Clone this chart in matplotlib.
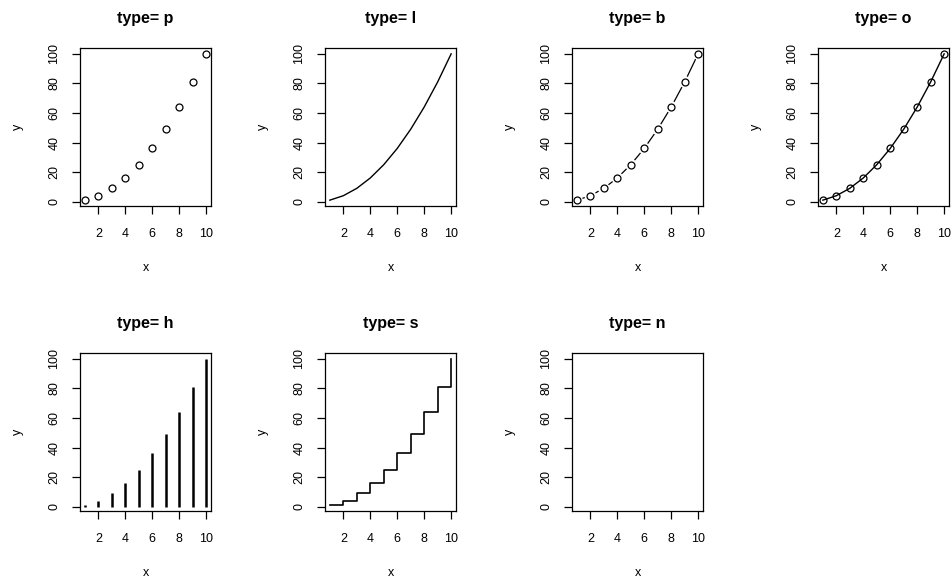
import matplotlib
matplotlib.use("Agg")
import matplotlib.pyplot as plt
import numpy as np

plt.rcParams['font.family'] = ['Liberation Sans', 'DejaVu Sans']

x = [1, 2, 3, 4, 5, 6, 7, 8, 9, 10]
y = [1, 4, 9, 16, 25, 36, 49, 64, 81, 100]
types = ['p', 'l', 'b', 'o', 'h', 's', 'n']
x_ticks = [2, 4, 6, 8, 10]
y_ticks = [0, 20, 40, 60, 80, 100]

W, H = 952, 580
fig = plt.figure(figsize=(W / 100, H / 100), dpi=100)

# panel boxes in pixels (left, top), all same size
col_left = [80, 325, 572, 818]
row_top = [48, 353]
box_w, box_h = 131, 158


def b_segments(ax, xs, ys, gap=6.5):
    # lines between points, broken near each point (R type="b")
    pts = ax.transData.transform(np.column_stack([xs, ys]))
    inv = ax.transData.inverted()
    for p0, p1 in zip(pts[:-1], pts[1:]):
        d = p1 - p0
        n = np.hypot(*d)
        if n <= 2 * gap:
            continue
        u = d / n
        a = inv.transform(p0 + u * gap)
        b = inv.transform(p1 - u * gap)
        ax.plot([a[0], b[0]], [a[1], b[1]], color='black', lw=0.9)


for i, t in enumerate(types):
    r, c = divmod(i, 4)
    left = col_left[c] / W
    bottom = 1 - (row_top[r] + box_h) / H
    ax = fig.add_axes([left, bottom, box_w / W, box_h / H])
    ax.set_xlim(0.64, 10.36)
    ax.set_ylim(-2.96, 103.96)

    mk = dict(marker='o', mfc='none', mec='black', ms=5, mew=0.9)
    if t == 'p':
        ax.plot(x, y, ls='none', **mk)
    elif t == 'l':
        ax.plot(x, y, color='black', lw=1)
    elif t == 'b':
        ax.plot(x, y, ls='none', **mk)
        b_segments(ax, x, y)
    elif t == 'o':
        ax.plot(x, y, color='black', lw=1, **mk)
    elif t == 'h':
        ax.vlines(x, 0, y, color='black', lw=1.8)
    elif t == 's':
        ax.plot(x, y, color='black', lw=1.2, drawstyle='steps-post')

    ax.set_xticks(x_ticks)
    ax.set_yticks(y_ticks)
    ax.set_xticklabels([str(v) for v in x_ticks])
    ax.set_yticklabels([str(v) for v in y_ticks], rotation=90, va='center')
    ax.tick_params(direction='out', length=6, width=0.9, labelsize=9,
                   colors='black')
    ax.tick_params(axis='x', pad=10)
    ax.tick_params(axis='y', pad=8)
    for s in ax.spines.values():
        s.set_linewidth(0.9)
    ax.set_title('type= ' + t, fontsize=11.5, fontweight='bold', pad=18)
    ax.set_xlabel('x', fontsize=9, labelpad=16)
    ax.set_ylabel('y', fontsize=9, labelpad=18)

fig.savefig('out.png', dpi=100)
